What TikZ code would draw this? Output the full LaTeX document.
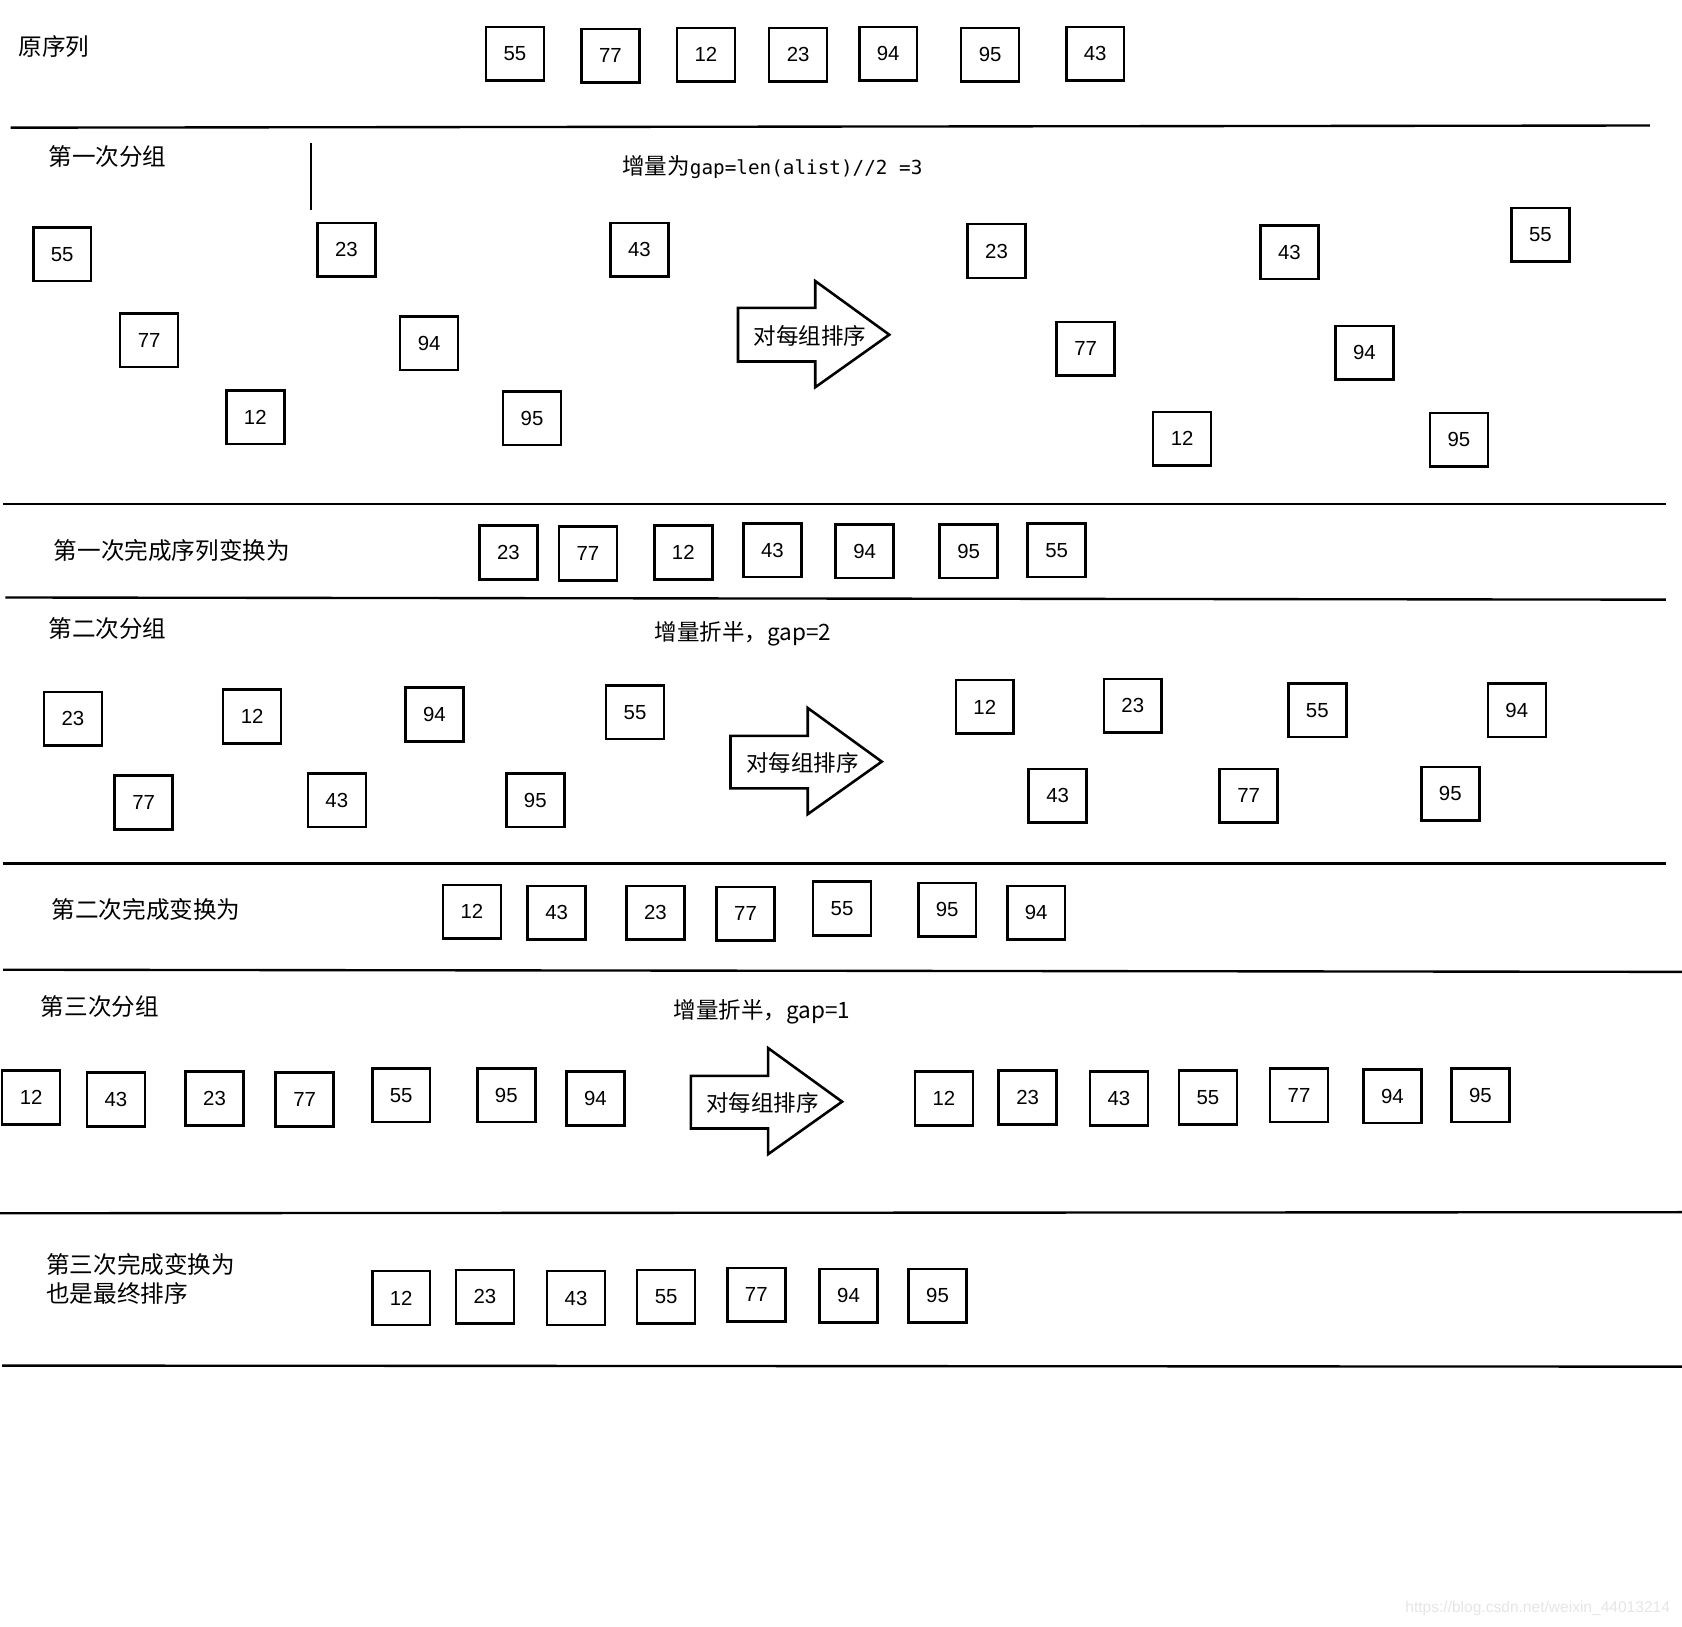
\documentclass[tikz,border=0pt]{standalone}
\usepackage{fontspec}
\setmainfont{Noto Sans CJK SC}
\newfontfamily\numfont{Liberation Sans}
\newfontfamily\codefont{DejaVu Sans Mono}
\usetikzlibrary{positioning}
\tikzset{
  num/.style   ={rectangle, draw=black, line width=2.4pt, minimum width=54pt,
                 minimum height=50pt, inner sep=0pt,
                 font=\numfont\fontsize{19}{22}\selectfont},
  lbl/.style   ={anchor=west, inner sep=0pt, align=left,
                 font=\fontsize{22}{27}\selectfont},
  note/.style  ={inner sep=0pt, font=\fontsize{21}{24}\selectfont},
  sep/.style   ={line width=2.2pt, draw=black},
  blkarr/.style={line width=2.4pt, draw=black, fill=white, line join=miter},
}
\begin{document}
\begin{tikzpicture}[x=1pt, y=-1pt]
  \useasboundingbox (0,0) rectangle (1568,1516);

  % original sequence
  \node[lbl] (lorig) at (17,43) {原序列};
  \node[num] (o55) at (480,50) {55};
  \node[num] (o77) at (569,52) {77};
  \node[num] (o12) at (658,51) {12};
  \node[num] (o23) at (744,51) {23};
  \node[num] (o94) at (828,50) {94};
  \node[num] (o95) at (923,51) {95};
  \node[num] (o43) at (1021,50) {43};
  \draw[sep] (10,119) -- (1538,117);

  % first grouping, gap=3
  \node[lbl] (lga) at (45,146) {第一次分组};
  \draw[line width=2.2pt] (290,133) -- (290,196);
  \node[note, anchor=west] (gapa) at (580,156)
       {增量为{\codefont\fontsize{18}{22}\selectfont gap=len(alist)//2 =3}};
  \node[num] (ga55) at (58,237) {55};
  \node[num] (ga23) at (323,233) {23};
  \node[num] (ga43) at (596,233) {43};
  \node[num] (ga77) at (139,317) {77};
  \node[num] (ga94) at (400,320) {94};
  \node[num] (ga12) at (238,389) {12};
  \node[num] (ga95) at (496,390) {95};
  \draw[blkarr] (688,287) -- (760,287) -- (760,262) -- (829,312)
                -- (760,361) -- (760,337) -- (688,337) -- cycle;
  \node[note] (sorta) at (755,313) {对每组排序};
  \node[num] (gb23) at (929,234) {23};
  \node[num] (gb43) at (1202,235) {43};
  \node[num] (gb55) at (1436,219) {55};
  \node[num] (gb77) at (1012,325) {77};
  \node[num] (gb94) at (1272,329) {94};
  \node[num] (gb12) at (1102,409) {12};
  \node[num] (gb95) at (1360,410) {95};
  \draw[sep] (3,470) -- (1553,470);

  % result of first pass
  \node[lbl] (lra) at (50,513) {第一次完成序列变换为};
  \node[num] (ra23) at (474,515) {23};
  \node[num] (ra77) at (548,516) {77};
  \node[num] (ra12) at (637,515) {12};
  \node[num] (ra43) at (720,513) {43};
  \node[num] (ra94) at (806,514) {94};
  \node[num] (ra95) at (903,514) {95};
  \node[num] (ra55) at (985,513) {55};
  \draw[sep] (5,557) -- (1553,559);

  % second grouping, gap=2
  \node[lbl] (lha) at (45,586) {第二次分组};
  \node[note, anchor=west] (gapb) at (610,591) {增量折半，gap=2};
  \node[num] (ha23) at (68,670) {23};
  \node[num] (ha12) at (235,668) {12};
  \node[num] (ha94) at (405,666) {94};
  \node[num] (ha55) at (592,664) {55};
  \node[num] (ha77) at (134,748) {77};
  \node[num] (ha43) at (314,746) {43};
  \node[num] (ha95) at (499,746) {95};
  \draw[blkarr] (681,686) -- (753,686) -- (753,660) -- (822,710)
                -- (753,759) -- (753,735) -- (681,735) -- cycle;
  \node[note] (sortb) at (748,711) {对每组排序};
  \node[num] (hb12) at (918,659) {12};
  \node[num] (hb23) at (1056,658) {23};
  \node[num] (hb55) at (1228,662) {55};
  \node[num] (hb94) at (1414,662) {94};
  \node[num] (hb43) at (986,742) {43};
  \node[num] (hb77) at (1164,742) {77};
  \node[num] (hb95) at (1352,740) {95};
  \draw[sep] (3,805) -- (1553,805);

  % result of second pass
  \node[lbl] (lrb) at (48,848) {第二次完成变换为};
  \node[num] (rb12) at (440,850) {12};
  \node[num] (rb43) at (519,851) {43};
  \node[num] (rb23) at (611,851) {23};
  \node[num] (rb77) at (695,852) {77};
  \node[num] (rb55) at (785,847) {55};
  \node[num] (rb95) at (883,848) {95};
  \node[num] (rb94) at (966,851) {94};
  \draw[sep] (3,904) -- (1568,906);

  % third grouping, gap=1
  \node[lbl] (lka) at (38,938) {第三次分组};
  \node[note, anchor=west] (gapc) at (628,943) {增量折半，gap=1};
  \node[num] (ka12) at (29,1023) {12};
  \node[num] (ka43) at (108,1025) {43};
  \node[num] (ka23) at (200,1024) {23};
  \node[num] (ka77) at (284,1025) {77};
  \node[num] (ka55) at (374,1021) {55};
  \node[num] (ka95) at (472,1021) {95};
  \node[num] (ka94) at (555,1024) {94};
  \draw[blkarr] (644,1003) -- (716,1003) -- (716,977) -- (785,1027)
                -- (716,1076) -- (716,1052) -- (644,1052) -- cycle;
  \node[note] (sortc) at (711,1028) {对每组排序};
  \node[num] (kb12) at (880,1024) {12};
  \node[num] (kb23) at (958,1023) {23};
  \node[num] (kb43) at (1043,1024) {43};
  \node[num] (kb55) at (1126,1023) {55};
  \node[num] (kb77) at (1211,1021) {77};
  \node[num] (kb94) at (1298,1022) {94};
  \node[num] (kb95) at (1380,1021) {95};
  \draw[sep] (0,1131) -- (1568,1130);

  % final order
  \node[lbl] (lfin) at (43,1192) {第三次完成变换为\\也是最终排序};
  \node[num] (f12) at (374,1210) {12};
  \node[num] (f23) at (452,1209) {23};
  \node[num] (f43) at (537,1210) {43};
  \node[num] (f55) at (621,1209) {55};
  \node[num] (f77) at (705,1207) {77};
  \node[num] (f94) at (791,1208) {94};
  \node[num] (f95) at (874,1208) {95};
  \draw[sep] (2,1273) -- (1568,1274);

  % watermark
  \node[anchor=east, inner sep=0pt, text=black!10,
        font=\numfont\fontsize{14.5}{17}\selectfont] (wm) at (1557,1499)
       {https://blog.csdn.net/weixin\_44013214};
\end{tikzpicture}
\end{document}
